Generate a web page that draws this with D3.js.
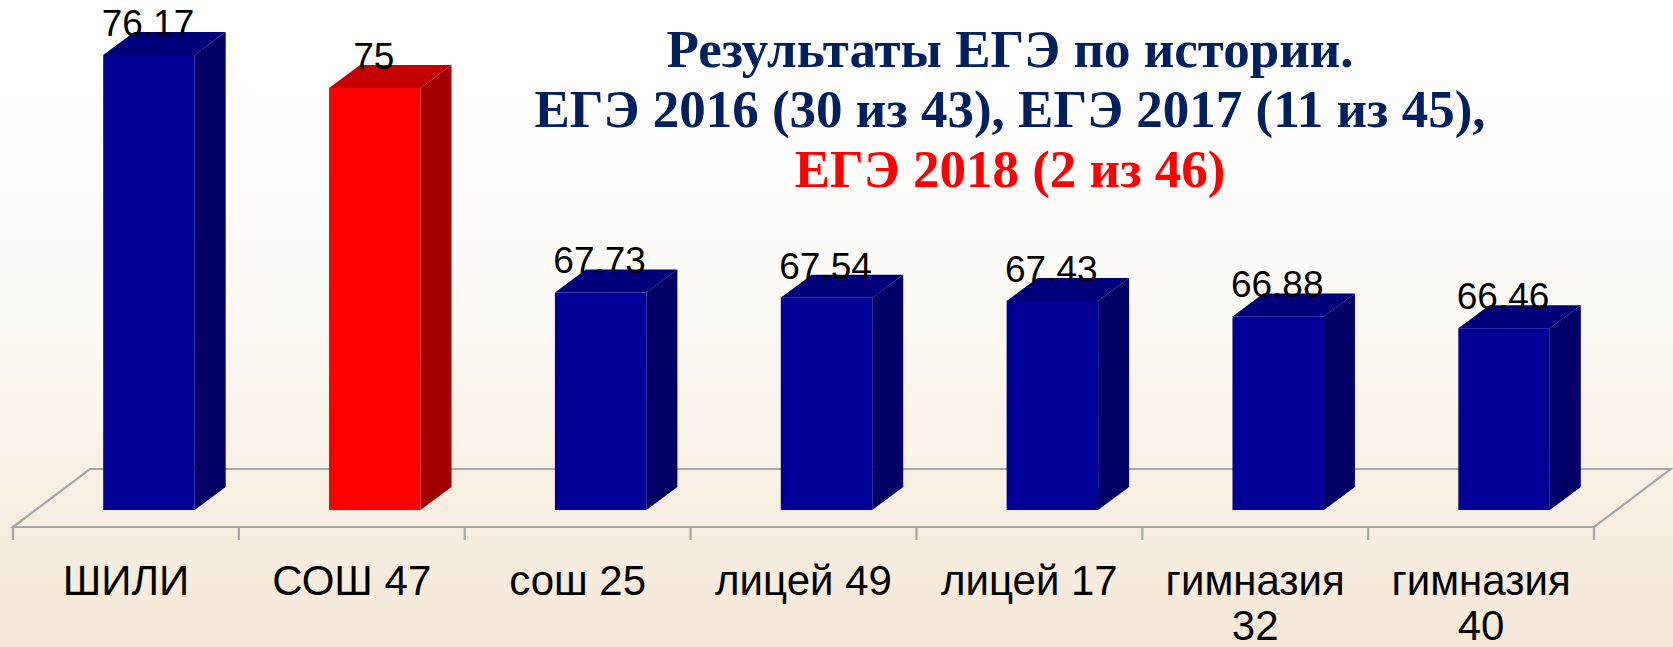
<!DOCTYPE html>
<html>
<head>
<meta charset="utf-8">
<script src="https://cdn.jsdelivr.net/npm/d3@7"></script>
<style>
  html, body { margin: 0; padding: 0; }
  body { width: 1673px; height: 647px; overflow: hidden; }
</style>
</head>
<body>
<svg id="chart" width="1673" height="647"></svg>
<script>
'use strict';

var categories = ['ШИЛИ', 'СОШ 47', 'сош 25', 'лицей 49', 'лицей 17', 'гимназия 32', 'гимназия 40'];
var labelLines = [['ШИЛИ'], ['СОШ 47'], ['сош 25'], ['лицей 49'], ['лицей 17'], ['гимназия', '32'], ['гимназия', '40']];
var values = [76.17, 75, 67.73, 67.54, 67.43, 66.88, 66.46];
var highlight = ['СОШ 47'];
var titleLines = [
	{ text: 'Результаты ЕГЭ по истории.', color: '#002060' },
	{ text: 'ЕГЭ 2016 (30 из 43), ЕГЭ 2017 (11 из 45),', color: '#002060' },
	{ text: 'ЕГЭ 2018 (2 из 46)', color: '#ff0000' }
];

var svg = d3.select('#chart');
var W = 1673, H = 647;

// background gradient
var defs = svg.append('defs');
var grad = defs.append('linearGradient').attr('id', 'bg')
		.attr('x1', 0).attr('y1', 0).attr('x2', 0).attr('y2', 1);
grad.append('stop').attr('offset', '0%').attr('stop-color', '#ffffff');
grad.append('stop').attr('offset', '40%').attr('stop-color', '#fdfbf8');
grad.append('stop').attr('offset', '100%').attr('stop-color', '#f5e8d6');
svg.append('rect').attr('width', W).attr('height', H).attr('fill', 'url(#bg)');

// floor geometry (front plane + depth)
var floorY = 527;
var depthX = 77, depthY = 58;
var x = d3.scaleBand().domain(categories).range([13, 1594]).paddingInner(0).paddingOuter(0);

var barShiftX = 23, barShiftY = 17;   // bar front sits set back on the floor
var barDepthX = 31, barDepthY = 23;
var barW = x.bandwidth() * 0.405;
var baseY = floorY - barShiftY;
var yb = d3.scaleLinear().domain([60, 78]).range([baseY, baseY - 18 * 28.14]);

var x0 = x.range()[0], x1 = x.range()[1];

// floor
var floor = svg.append('g').attr('fill', 'none').attr('stroke', '#a6a6a6').attr('stroke-width', 2.2);
floor.append('path').attr('d',
	'M' + x0 + ',' + floorY + 'L' + (x0 + depthX) + ',' + (floorY - depthY) +
	'L' + (x1 + depthX) + ',' + (floorY - depthY) + 'L' + x1 + ',' + floorY + 'Z');

// ticks
floor.selectAll('line.tick')
		.data(categories.concat(['__end']))
		.enter().append('line')
		.attr('class', 'tick')
		.attr('x1', function(d) { return d === '__end' ? x1 : x(d); })
		.attr('x2', function(d) { return d === '__end' ? x1 : x(d); })
		.attr('y1', floorY)
		.attr('y2', floorY + 13);

// bars
var data = categories.map(function(c, i) {
	return { cat: c, value: values[i], red: highlight.indexOf(c) >= 0 };
});

var bars = svg.selectAll('g.bar')
		.data(data)
		.enter().append('g')
		.attr('class', 'bar');

function fx(d) { return x(d.cat) + (x.bandwidth() - barW) / 2 + barShiftX; }

bars.append('path')
		.attr('fill', function(d) { return d.red ? '#a30000' : '#000066'; })
		.attr('d', function(d) {
			var l = fx(d) + barW, t = yb(d.value);
			return 'M' + l + ',' + baseY + 'L' + l + ',' + t +
				'L' + (l + barDepthX) + ',' + (t - barDepthY) +
				'L' + (l + barDepthX) + ',' + (baseY - barDepthY) + 'Z';
		});

bars.append('path')
		.attr('fill', function(d) { return d.red ? '#c40000' : '#00007a'; })
		.attr('d', function(d) {
			var l = fx(d), t = yb(d.value);
			return 'M' + l + ',' + t + 'L' + (l + barW) + ',' + t +
				'L' + (l + barW + barDepthX) + ',' + (t - barDepthY) +
				'L' + (l + barDepthX) + ',' + (t - barDepthY) + 'Z';
		});

bars.append('rect')
		.attr('fill', function(d) { return d.red ? '#ff0000' : '#000099'; })
		.attr('x', fx)
		.attr('y', function(d) { return yb(d.value); })
		.attr('width', barW)
		.attr('height', function(d) { return baseY - yb(d.value); });

// value labels
bars.append('text')
		.attr('x', function(d) { return fx(d) + barW / 2 - 1; })
		.attr('y', function(d) { return yb(d.value) - 19; })
		.attr('text-anchor', 'middle')
		.attr('font-family', 'Liberation Sans, Arial, sans-serif')
		.attr('font-size', 37)
		.attr('fill', '#000')
		.text(function(d) { return d.value; });

// category labels
var cl = svg.selectAll('text.cat')
		.data(categories)
		.enter().append('text')
		.attr('class', 'cat')
		.attr('text-anchor', 'middle')
		.attr('font-family', 'Liberation Sans, Arial, sans-serif')
		.attr('font-size', 42)
		.attr('fill', '#000');
cl.selectAll('tspan')
		.data(function(d, i) { return labelLines[i].map(function(t) { return { t: t, c: d }; }); })
		.enter().append('tspan')
		.attr('x', function(d) { return x(d.c) + x.bandwidth() / 2; })
		.attr('y', function(d, i) { return 595 + i * 45; })
		.text(function(d) { return d.t; });

// title
svg.selectAll('text.title')
		.data(titleLines)
		.enter().append('text')
		.attr('class', 'title')
		.attr('x', 1010)
		.attr('y', function(d, i) { return 67 + i * 60; })
		.attr('text-anchor', 'middle')
		.attr('font-family', 'Liberation Serif, Times New Roman, serif')
		.attr('font-weight', 'bold')
		.attr('font-size', 53)
		.attr('fill', function(d) { return d.color; })
		.text(function(d) { return d.text; });
</script>
</body>
</html>
